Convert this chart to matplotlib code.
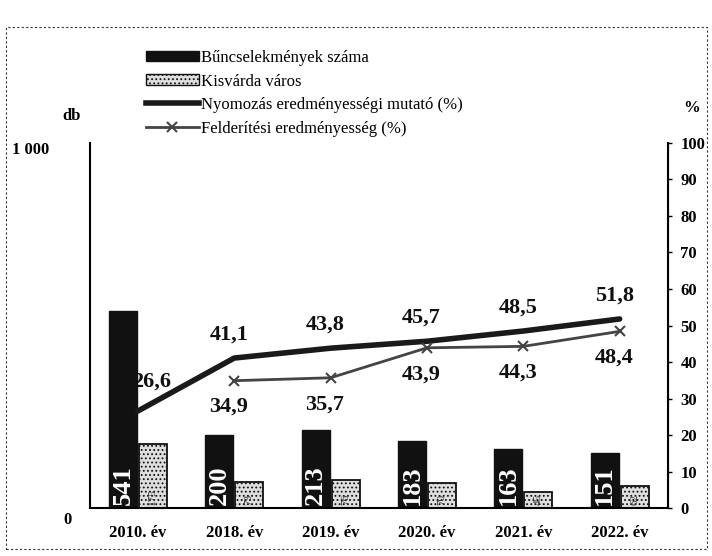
import matplotlib
matplotlib.use("Agg")
import matplotlib.pyplot as plt
import numpy as np
from matplotlib.patches import Rectangle, Patch
from matplotlib.lines import Line2D

plt.rcParams['font.family'] = ['Liberation Serif', 'DejaVu Serif']
plt.rcParams['hatch.color'] = '#777777'
plt.rcParams['hatch.linewidth'] = 0.8

categories = ['2010. év', '2018. év', '2019. év', '2020. év', '2021. év', '2022. év']
crimes = [541, 200, 213, 183, 163, 151]
kisvarda = [175, 73, 76, 70, 45, 62]
nyomozas = [26.6, 41.1, 43.8, 45.7, 48.5, 51.8]
felderites = [np.nan, 34.9, 35.7, 43.9, 44.3, 48.4]

legend_labels = ['Bűncselekmények száma', 'Kisvárda város',
                 'Nyomozás eredményességi mutató (%)', 'Felderítési eredményesség (%)']

fig = plt.figure(figsize=(7.12, 5.56), dpi=100)
ax = fig.add_axes([0.126, 0.086, 0.812, 0.657])
ax2 = ax.twinx()

x = np.arange(len(categories))
w = 0.29
b1 = ax.bar(x - w/2 - 0.01, crimes, w, color='#111111', edgecolor='#111111', zorder=2)
b2 = ax.bar(x + w/2 + 0.01, kisvarda, w, color='#dedede', edgecolor='#111111',
            linewidth=1.3, hatch='....', zorder=2)

for xi, v in zip(x - w/2 - 0.01, crimes):
    ax.text(xi, 10, f'{v}', rotation=90, rotation_mode='anchor', ha='left', va='center',
            color='white', fontsize=19, fontweight='bold', zorder=3)
for xi, v in zip(x + w/2 + 0.01, kisvarda):
    ax.text(xi, 10, f'{v}', rotation=90, rotation_mode='anchor', ha='left', va='center',
            color='#333333', fontsize=8, zorder=3)

ax.set_ylim(0, 1000)
ax.set_xlim(-0.5, 5.5)
ax.set_xticks(x)
ax.set_xticklabels(categories, fontsize=12, fontweight='bold')
ax.tick_params(axis='x', length=0, pad=12)
ax.set_yticks([])
ax.spines['top'].set_visible(False)
ax.spines['left'].set_linewidth(1.5)
ax.spines['bottom'].set_linewidth(1.5)

ax2.set_ylim(0, 100)
ax2.set_yticks(np.arange(0, 101, 10))
ax2.set_yticklabels([str(t) for t in range(0, 101, 10)], fontsize=12, fontweight='bold')
ax2.tick_params(axis='y', length=3, width=1, pad=6)
ax2.spines['top'].set_visible(False)
ax2.spines['right'].set_linewidth(1.5)
ax2.spines['left'].set_visible(False)
ax2.spines['bottom'].set_visible(False)

ax2.plot(x, nyomozas, color='#1a1a1a', linewidth=4, solid_capstyle='round', zorder=4)
ax2.plot(x, felderites, color='#444444', linewidth=2, marker='x', markersize=7,
         markeredgewidth=1.5, zorder=4)

for i, v in enumerate(nyomozas):
    off = (10, 21) if i == 0 else (-4, 17)
    ax2.annotate(f'{v}'.replace('.', ','), (x[i], v), xytext=off, textcoords='offset points',
                 ha='center', va='center', fontsize=16, fontweight='bold', color='#111111',
                 zorder=5)
for i, v in enumerate(felderites):
    if np.isnan(v):
        continue
    ax2.annotate(f'{v}'.replace('.', ','), (x[i], v), xytext=(-4, -19), textcoords='offset points',
                 ha='center', va='center', fontsize=16, fontweight='bold', color='#111111')

fig.text(62/712, 1 - 116/556, 'db', fontsize=12, fontweight='bold', ha='left', va='center')
fig.text(12/712, 1 - 150/556, '1 000', fontsize=12, fontweight='bold', ha='left', va='center')
fig.text(68/712, 1 - 520/556, '0', fontsize=12, fontweight='bold', ha='center', va='center')
fig.text(692/712, 1 - 108/556, '%', fontsize=12, fontweight='bold', ha='center', va='center')

handles = [Patch(facecolor='#111111', edgecolor='#111111'),
           Patch(facecolor='#dedede', edgecolor='#111111', hatch='....'),
           Line2D([0], [0], color='#1a1a1a', linewidth=4),
           Line2D([0], [0], color='#444444', linewidth=2, marker='x', markersize=7, markeredgewidth=1.5)]
fig.legend(handles, legend_labels, loc='upper left', bbox_to_anchor=(0.195, 0.922),
           frameon=False, fontsize=12, handlelength=3.2, handleheight=0.6,
           labelspacing=0.45, handletextpad=0.1, borderaxespad=0)

fig.patches.append(Rectangle((0.008, 0.012), 0.985, 0.94, transform=fig.transFigure,
                             fill=False, linestyle=(0, (2, 2)), linewidth=0.8, edgecolor='#333333'))

fig.savefig('out.png', dpi=100)
